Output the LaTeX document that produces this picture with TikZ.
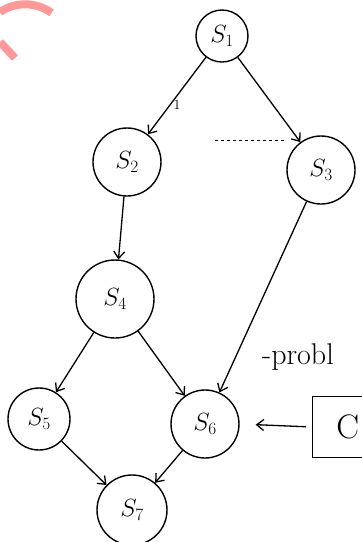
\documentclass[tikz,border=0pt]{standalone}
\usetikzlibrary{arrows.meta}
\begin{document}
\begin{tikzpicture}[x=1pt,y=-1pt,
  st/.style={draw,line width=1.4pt,circle,inner sep=0pt,font=\fontsize{25}{28}\selectfont},
  edge/.style={line width=1.3pt,-{Straight Barb[length=7pt,width=11pt]}},
  lbl/.style={font=\fontsize{30}{34}\selectfont}]
\useasboundingbox (0,0) rectangle (362,542);
% watermark
\draw[line width=8pt,red!40!white] (0,12) arc[start angle=236,end angle=306,radius=45];
\draw[line width=8pt,red!40!white] (0,42) -- (15,58);
% states
\node[st,minimum size=52pt] (s1) at (222,36) {$S_1$};
\node[st,minimum size=68pt] (s2) at (127,162) {$S_2$};
\node[st,minimum size=68pt] (s3) at (321,170) {$S_3$};
\node[st,minimum size=78pt] (s4) at (115,299) {$S_4$};
\node[st,minimum size=62pt] (s5) at (39,419) {$S_5$};
\node[st,minimum size=68pt] (s6) at (205,424) {$S_6$};
\node[st,minimum size=70pt] (s7) at (132,510) {$S_7$};
% box
\node[draw,line width=1.4pt,minimum width=70pt,minimum height=61pt,anchor=west,font=\fontsize{34}{38}\selectfont] (c) at (312,427) {C};
% edges
\draw[edge] (s1) -- (s2) node[pos=0.62,anchor=west,xshift=2pt,inner sep=1pt,font=\fontsize{14}{16}\selectfont] (one) {1};
\draw[edge] (s1) -- (s3);
\draw[edge] (s2) -- (s4);
\draw[edge] (s3) -- (s6);
\draw[edge] (s4) -- (s5);
\draw[edge] (s4) -- (s6);
\draw[edge] (s5) -- (s7);
\draw[edge] (s6) -- (s7);
\draw[edge,shorten >=16pt,shorten <=6pt] (c.west) -- (s6.east);
% dashed mark
\coordinate (d1) at (215,140);
\coordinate (d2) at (285,140);
\draw[dashed,thin] (d1) -- (d2);
% text
\node[lbl,anchor=west,inner sep=0pt] (prob) at (262,357) {-probl};
\end{tikzpicture}
\end{document}
